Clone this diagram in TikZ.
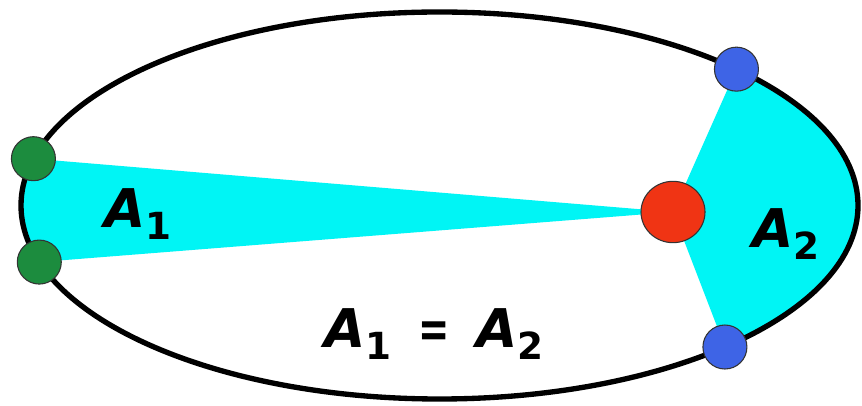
\documentclass[tikz,border=0pt]{standalone}
\usepackage{fontspec}
\setmainfont{DejaVu Sans}
\usetikzlibrary{calc,shapes.geometric}
\definecolor{areacyan}{RGB}{0,245,245}
\definecolor{planetgreen}{RGB}{28,140,62}
\definecolor{planetblue}{RGB}{62,100,230}
\definecolor{sunred}{RGB}{240,52,20}
\tikzset{
  orbit/.style={line width=4pt, black},
  area/.style={fill=areacyan, draw=none},
  planet/.style={circle, draw=black!80, line width=0.8pt, minimum size=33pt, inner sep=0pt},
  lbl/.style={font=\fontsize{40}{40}\selectfont\bfseries\itshape, inner sep=0pt},
}
\newcommand{\subnum}[1]{\raisebox{-9pt}{\fontsize{28}{28}\selectfont\upshape #1}}
\begin{document}
\begin{tikzpicture}[x=0.75pt,y=0.75pt]
\useasboundingbox (0,0) rectangle (862,406);
\fill[white] (0,0) rectangle (862,406);
% ellipse points
\coordinate (O) at (439.5,200.5);
\coordinate (g1) at ($(O)+(166:418.5 and 193.5)$);
\coordinate (g2) at ($(O)+(197:418.5 and 193.5)$);
\coordinate (b1) at ($(O)+(44.8:418.5 and 193.5)$);
\coordinate (b2) at ($(O)+(-47:418.5 and 193.5)$);
\coordinate (S) at (673,194);
% swept areas
\path[area] (S) -- (g1) arc[start angle=166, end angle=197, x radius=418.5, y radius=193.5] -- cycle;
\path[area] (S) -- (b2) arc[start angle=-47, end angle=44.8, x radius=418.5, y radius=193.5] -- cycle;
% orbit
\draw[orbit] (O) ellipse[x radius=418.5, y radius=193.5];
% planets and sun
\node[planet, fill=planetgreen] (green1) at (g1) {};
\node[planet, fill=planetgreen] (green2) at (g2) {};
\node[planet, fill=planetblue] (blue1) at (b1) {};
\node[planet, fill=planetblue] (blue2) at (b2) {};
\node[ellipse, draw=black!80, line width=0.8pt, fill=sunred, minimum width=48pt, minimum height=46pt, inner sep=0pt] (sun) at (S) {};
% labels
\node[lbl] (a1) at (138,192) {A\subnum{1}};
\node[lbl] (a2) at (786,172) {A\subnum{2}};
\node[lbl] (eq) at (434,72) {A\subnum{1}\hspace{20pt}\upshape\scalebox{0.7}[1]{=}\hspace{20pt}\itshape A\subnum{2}};
\end{tikzpicture}
\end{document}
